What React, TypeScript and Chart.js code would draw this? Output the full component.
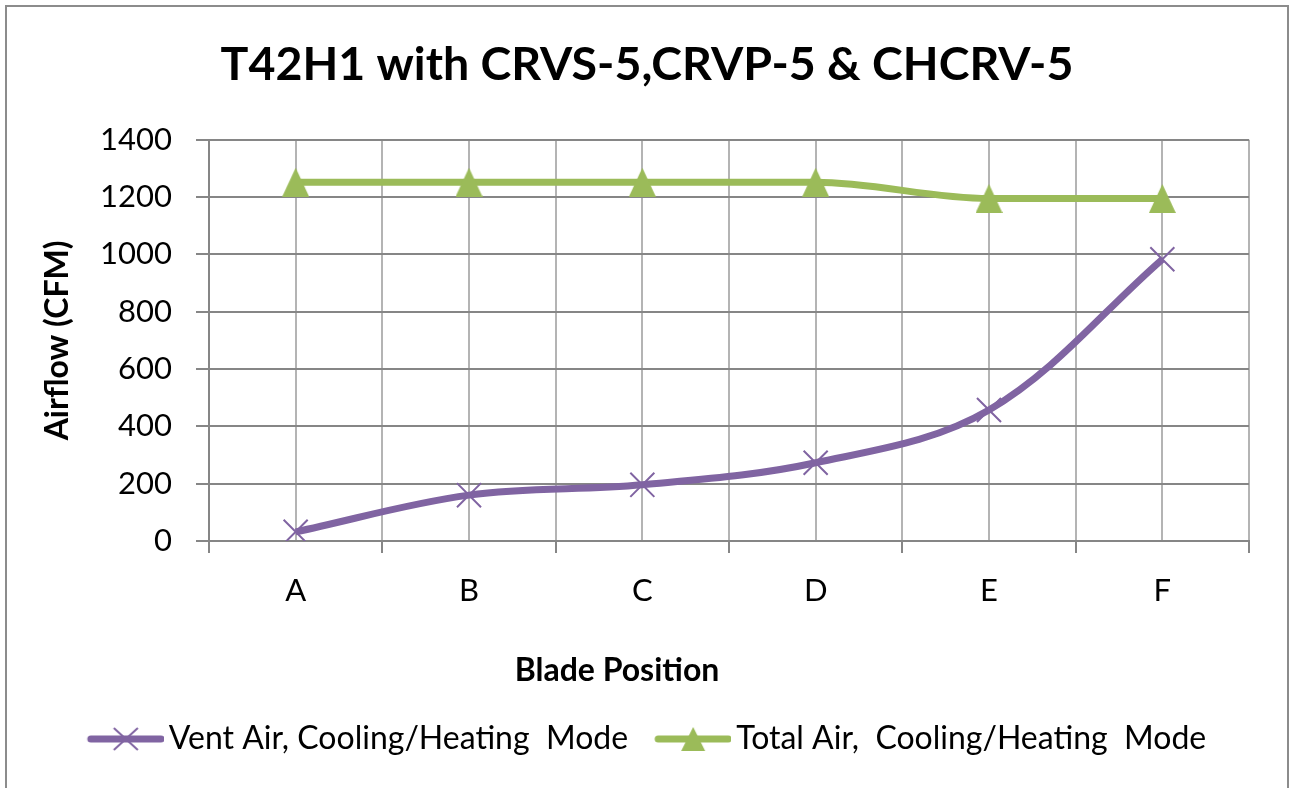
import React, { useEffect, useRef } from 'react';
import { Chart, registerables } from 'chart.js';

Chart.register(...registerables);

const categories = ['A', 'B', 'C', 'D', 'E', 'F'];
const ventAir = [32, 160, 196, 273, 457, 983];
const totalAir = [1252, 1252, 1252, 1252, 1195, 1195];
const seriesNames = ['Vent Air, Cooling/Heating  Mode', 'Total Air,  Cooling/Heating  Mode'];
const chartTitle = 'T42H1 with CRVS-5,CRVP-5 & CHCRV-5';
const xTitle = 'Blade Position';
const yTitle = 'Airflow (CFM)';
const yMin = 0;
const yMax = 1400;
const yStep = 200;

const PURPLE = '#8064a2';
const GREEN = '#9bbb59';
const FONT = 'Lato';

function makeTriangle(w: number, h: number, color: string) {
  const c = document.createElement('canvas');
  c.width = w;
  c.height = h;
  const g = c.getContext('2d')!;
  g.fillStyle = color;
  g.beginPath();
  g.moveTo(w / 2, 0);
  g.lineTo(w, h);
  g.lineTo(0, h);
  g.closePath();
  g.fill();
  return c;
}

function makeLegendIcon(kind: 'x' | 'tri', color: string) {
  const W = 87;
  const H = 32;
  const c = document.createElement('canvas');
  c.width = W;
  c.height = H;
  const g = c.getContext('2d')!;
  g.strokeStyle = color;
  g.lineCap = 'round';
  g.lineWidth = 7;
  g.beginPath();
  g.moveTo(14, H / 2);
  g.lineTo(84, H / 2);
  g.stroke();
  const cx = 49;
  const cy = H / 2;
  if (kind === 'x') {
    g.lineCap = 'butt';
    g.lineWidth = 2;
    g.beginPath();
    g.moveTo(cx - 12, cy - 11);
    g.lineTo(cx + 12, cy + 11);
    g.moveTo(cx + 12, cy - 11);
    g.lineTo(cx - 12, cy + 11);
    g.stroke();
  } else {
    g.fillStyle = color;
    g.beginPath();
    g.moveTo(cx, cy - 12);
    g.lineTo(cx + 12, cy + 12);
    g.lineTo(cx - 12, cy + 12);
    g.closePath();
    g.fill();
  }
  return c;
}

export default function App() {
  const ref = useRef<HTMLCanvasElement | null>(null);

  useEffect(() => {
    document.body.style.margin = '0';
    document.body.style.overflow = 'hidden';
    const canvas = ref.current;
    if (!canvas) return;

    const tri = makeTriangle(27, 29, GREEN);
    const icons = [makeLegendIcon('x', PURPLE), makeLegendIcon('tri', GREEN)];

    const xTitlePlugin = {
      id: 'xTitlePlugin',
      afterDraw(chart: any) {
        const { ctx, chartArea } = chart;
        ctx.save();
        ctx.font = `bold 32px ${FONT}`;
        ctx.fillStyle = '#000';
        ctx.textAlign = 'center';
        ctx.textBaseline = 'middle';
        ctx.fillText(xTitle, chartArea.left + 408, chartArea.bottom + 130);
        ctx.restore();
      },
    };

    const chart = new Chart(canvas, {
      type: 'line',
      data: {
        labels: categories,
        datasets: [
          {
            label: seriesNames[0],
            data: ventAir,
            borderColor: PURPLE,
            backgroundColor: PURPLE,
            borderWidth: 7,
            tension: 0.35,
            pointStyle: 'crossRot',
            pointRadius: 17,
            pointBorderWidth: 2,
            pointBorderColor: PURPLE,
            fill: false,
          },
          {
            label: seriesNames[1],
            data: totalAir,
            borderColor: GREEN,
            backgroundColor: GREEN,
            borderWidth: 7,
            cubicInterpolationMode: 'monotone',
            pointStyle: tri as any,
            pointRadius: 14,
            fill: false,
          },
        ],
      },
      options: {
        animation: false,
        responsive: false,
        events: [],
        layout: { padding: { left: 0, right: 0, top: 0, bottom: 23 } },
        plugins: {
          title: {
            display: true,
            text: chartTitle,
            color: '#000',
            font: { family: FONT, size: 46.5, weight: 'bold' },
            padding: { top: 30, bottom: 47 },
          },
          legend: {
            position: 'bottom',
            labels: {
              usePointStyle: true,
              pointStyleWidth: 65,
              padding: 27,
              color: '#000',
              font: { family: FONT, size: 32 },
              generateLabels: (ch: any) =>
                ch.data.datasets.map((ds: any, i: number) => ({
                  text: ds.label,
                  pointStyle: icons[i],
                  fillStyle: ds.borderColor,
                  strokeStyle: ds.borderColor,
                  lineWidth: 0,
                  hidden: false,
                  datasetIndex: i,
                  fontColor: '#000',
                })),
            },
          },
          tooltip: { enabled: false },
        },
        scales: {
          x: {
            type: 'category',
            offset: true,
            grid: { offset: true, color: '#b4b4b4', lineWidth: 2, tickLength: 12, tickColor: '#868686' },
            border: { color: '#868686', width: 2 },
            ticks: { color: '#000', font: { family: FONT, size: 31 }, padding: 19 },
            afterFit: (s: any) => {
              s.height = 155;
            },
          },
          x2: {
            type: 'category',
            position: 'bottom',
            offset: true,
            grid: { offset: false, color: '#b4b4b4', lineWidth: 2, drawTicks: false },
            border: { display: false },
            ticks: { display: false },
            afterFit: (s: any) => {
              s.height = 0;
            },
          },
          y: {
            min: yMin,
            max: yMax,
            ticks: {
              stepSize: yStep,
              color: '#000',
              font: { family: FONT, size: 31 },
              padding: 24,
              callback: (v: any) => String(v),
            },
            grid: { color: '#868686', lineWidth: 2, tickLength: 13 },
            border: { color: '#868686', width: 2 },
            title: {
              display: true,
              text: yTitle,
              color: '#000',
              font: { family: FONT, size: 32, weight: 'bold' },
              padding: { top: 31, bottom: 0 },
            },
            afterFit: (s: any) => {
              s.width = 202;
            },
          },
          yR: {
            position: 'right',
            display: true,
            grid: { display: false, drawTicks: false },
            border: { display: false },
            ticks: { display: false },
            afterFit: (s: any) => {
              s.width = 38;
            },
          },
        },
      } as any,
      plugins: [xTitlePlugin],
    });

    return () => chart.destroy();
  }, []);

  return (
    <div
      style={{
        position: 'absolute',
        left: 5,
        top: 5,
        width: 1284,
        height: 783,
        boxSizing: 'border-box',
        borderLeft: '2px solid #8c8c8c',
        borderTop: '2px solid #8c8c8c',
        borderRight: '2px solid #8c8c8c',
        background: '#fff',
      }}
    >
      <canvas ref={ref} width={1280} height={781} style={{ display: 'block', width: 1280, height: 781 }} />
    </div>
  );
}
